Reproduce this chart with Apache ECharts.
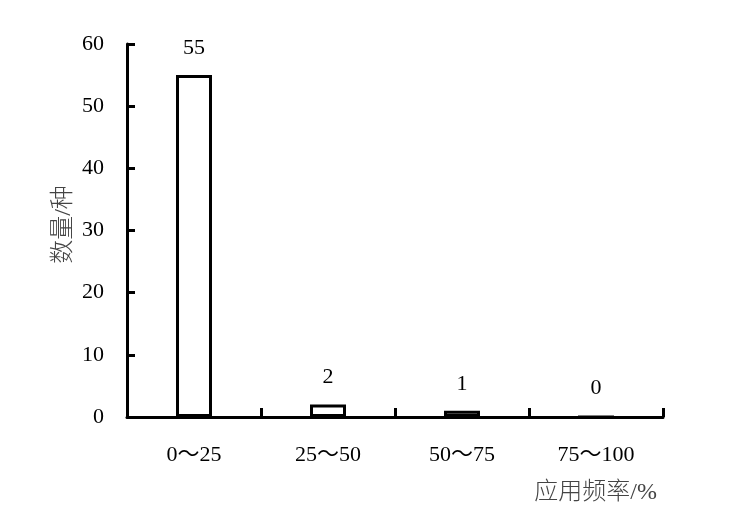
<!DOCTYPE html>
<html><head><meta charset="utf-8">
<script src="https://cdn.jsdelivr.net/npm/echarts@6/dist/echarts.min.js"></script>
<style>html,body{margin:0;padding:0;background:#fff}#c{width:738px;height:514px}</style>
</head><body><div id="c"></div>
<script>
const categories = ['0～25', '25～50', '50～75', '75～100'];
const counts = [55, 2, 1, 0];
const yTicks = [0, 10, 20, 30, 40, 50, 60];
const xName = '应用频率/%';
const yName = '数量/种';

const font = "'Liberation Serif', 'Times New Roman', 'Noto Sans CJK SC', serif";
const chart = echarts.init(document.getElementById('c'), null, {renderer: 'canvas'});
chart.setOption({
  animation: false,
  backgroundColor: '#fff',
  grid: {left: 127, right: 75, top: 44, bottom: 97, containLabel: false},
  xAxis: {
    type: 'category',
    data: categories,
    boundaryGap: true,
    name: xName,
    nameLocation: 'end',
    nameGap: -6,
    nameTextStyle: {fontFamily: font, fontSize: 24, fontWeight: 300, color: '#444', align: 'right', verticalAlign: 'top', padding: [64, 0, 0, 0]},
    axisLine: {lineStyle: {color: '#000', width: 3}},
    axisTick: {show: true, interval: 0, inside: true, length: 9, lineStyle: {color: '#000', width: 3}},
    axisLabel: {fontFamily: font, fontSize: 22, color: '#000', margin: 27},
    splitLine: {show: false}
  },
  yAxis: {
    type: 'value',
    min: yTicks[0],
    max: yTicks[yTicks.length - 1],
    interval: 10,
    name: yName,
    nameLocation: 'middle',
    nameGap: 51,
    nameMoveOverlap: false,
    nameTextStyle: {fontFamily: font, fontSize: 24, fontWeight: 300, color: '#444', padding: [0, 0, 0, 12]},
    axisLine: {show: true, lineStyle: {color: '#000', width: 3}},
    axisTick: {show: true, inside: true, length: 8, lineStyle: {color: '#000', width: 3}},
    axisLabel: {fontFamily: font, fontSize: 22, color: '#000', margin: 23},
    splitLine: {show: false}
  },
  series: [{
    type: 'bar',
    data: counts,
    barWidth: 36,
    itemStyle: {color: '#fff', borderColor: '#000', borderWidth: 3},
    label: {show: true, position: 'top', distance: 16, fontFamily: font, fontSize: 22, color: '#000'}
  }]
});
</script></body></html>
